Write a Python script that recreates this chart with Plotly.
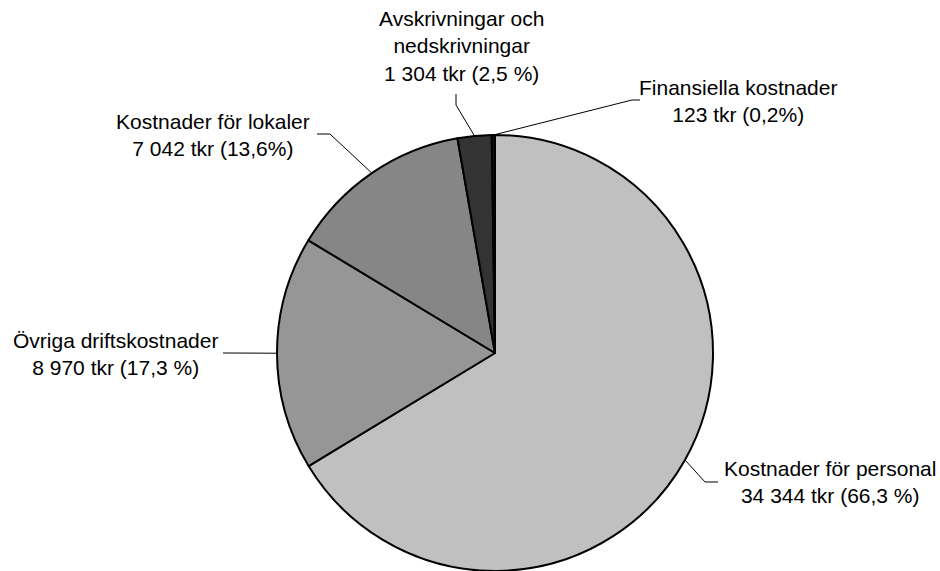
import math
import plotly.graph_objects as go

# ---- data ----
categories = ["Kostnader för personal", "Övriga driftskostnader", "Kostnader för lokaler",
              "Avskrivningar och nedskrivningar", "Finansiella kostnader"]
values = [34344, 8970, 7042, 1304, 123]
label_texts = [
    "Kostnader för personal<br>34 344 tkr (66,3 %)",
    "Övriga driftskostnader<br>8 970 tkr (17,3 %)",
    "Kostnader för lokaler<br>7 042 tkr (13,6%)",
    "Avskrivningar och<br>nedskrivningar<br>1 304 tkr (2,5 %)",
    "Finansiella kostnader<br>123 tkr (0,2%)",
]
colors = ["#C0C0C0", "#969696", "#868686", "#333333", "#111111"]

# ---- layout geometry (pixels) ----
W, H = 940, 571
cx, cy, R = 495, 353, 218
# label centres and leader elbow points (pixels)
label_pos = [(830, 482), (115, 354), (213, 135), (461, 46), (738, 101)]
elbows = [[(718, 482), (705, 482)],
          [(223, 353)],
          [(317, 134), (330, 134)],
          [(456, 94), (456, 105)],
          [(640, 100), (632, 100)]]


def px(x):
    return x / W


def py(y):
    return 1 - y / H


fig = go.Figure(go.Pie(
    labels=categories, values=values, sort=False, direction="clockwise", rotation=0,
    marker=dict(colors=colors, line=dict(color="black", width=2)),
    textinfo="none", hoverinfo="label+value+percent", showlegend=False,
    domain=dict(x=[px(cx - R), px(cx + R)], y=[py(cy + R), py(cy - R)]),
))

total = sum(values)
cum = 0
shapes = []
annotations = []
for i, v in enumerate(values):
    mid = (cum + v / 2) / total * 2 * math.pi
    cum += v
    ex = cx + R * math.sin(mid)
    ey = cy - R * math.cos(mid)
    pts = elbows[i] + [(ex, ey)]
    path = "M " + " L ".join(f"{px(a):.5f},{py(b):.5f}" for a, b in pts)
    shapes.append(dict(type="path", path=path, xref="paper", yref="paper",
                       line=dict(color="black", width=1)))
    lx, ly = label_pos[i]
    annotations.append(dict(x=px(lx), y=py(ly), xref="paper", yref="paper",
                            text=label_texts[i], showarrow=False,
                            xanchor="center", yanchor="middle", align="center",
                            font=dict(family="Liberation Sans, Arial", size=21, color="black")))

fig.update_layout(width=W, height=H, margin=dict(l=0, r=0, t=0, b=0),
                  paper_bgcolor="white", plot_bgcolor="white",
                  shapes=shapes, annotations=annotations)

fig.write_html("out.html", config={"displayModeBar": False},
               post_script="document.body.style.margin='0';document.body.style.overflow='hidden';")
